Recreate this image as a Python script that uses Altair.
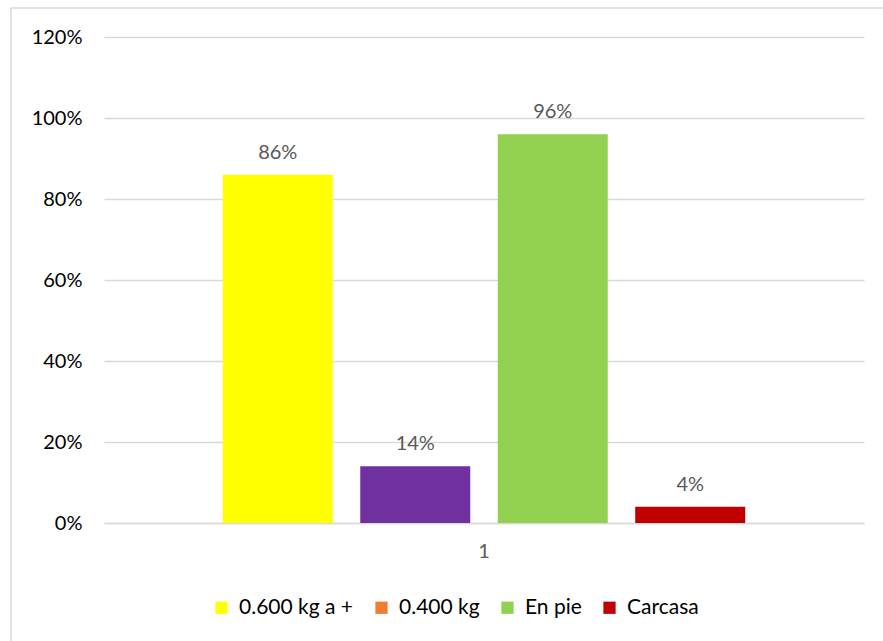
import altair as alt
import pandas as pd

series = ["0.600 kg a +", "0.400 kg", "En pie", "Carcasa"]
values = [0.86, 0.14, 0.96, 0.04]
category = ["1", "1", "1", "1"]
bar_colors = ["#FFFF00", "#7030A0", "#92D050", "#C00000"]
legend_colors = ["#FFFF00", "#ED7D31", "#92D050", "#C00000"]
y_ticks = [0, 0.2, 0.4, 0.6, 0.8, 1.0, 1.2]

df = pd.DataFrame({"cat": category, "series": series, "value": values, "bar_color": bar_colors})

FONT = "Lato"
FS = 20

x_enc = alt.X("cat:N", title=None,
              scale=alt.Scale(paddingInner=0, paddingOuter=0.191),
              axis=alt.Axis(labelAngle=0, labelFontSize=FS, labelColor="#595959", labelFont=FONT,
                            labelPadding=18, ticks=False, domain=True, domainColor="#d9d9d9",
                            domainWidth=1.5, grid=False))
xoff = alt.XOffset("series:N", sort=series, scale=alt.Scale(paddingInner=0.2, paddingOuter=0.1))
y_enc = alt.Y("value:Q", title=None,
              scale=alt.Scale(domain=[0, 1.2], nice=False),
              axis=alt.Axis(values=y_ticks, format=".0%", labelFontSize=FS, labelColor="#000000",
                            labelFont=FONT, labelPadding=22, ticks=False, domain=False,
                            gridColor="#d9d9d9", gridWidth=1.5))

base = alt.Chart(df)

bars = base.mark_bar().encode(
    x=x_enc, xOffset=xoff, y=y_enc,
    fill=alt.Fill("bar_color:N", scale=None),
)

labels = base.mark_text(dy=-12, baseline="bottom", fontSize=FS, color="#595959", font=FONT).encode(
    x=alt.X("cat:N"), xOffset=xoff, y=alt.Y("value:Q"),
    text=alt.Text("value:Q", format=".0%"),
)

legend_layer = base.mark_square(opacity=0, size=1).encode(
    x=alt.X("cat:N"), xOffset=xoff, y=alt.Y("value:Q"),
    color=alt.Color("series:N", sort=series,
                    scale=alt.Scale(domain=series, range=legend_colors),
                    legend=alt.Legend(title=None, orient="none", direction="horizontal",
                                      legendX=107, legendY=560, symbolType="square",
                                      symbolSize=150, symbolOpacity=1, symbolStrokeWidth=0,
                                      labelFontSize=21, labelFont=FONT, labelColor="#000000",
                                      labelOffset=7, columnPadding=17)),
)

border_left = alt.Chart(pd.DataFrame({"k": [0]})).mark_rule(color="#d9d9d9", strokeWidth=1.5).encode(
    x=alt.value(-93), y=alt.value(-29), y2=alt.value(640))
border_top = alt.Chart(pd.DataFrame({"k": [0]})).mark_rule(color="#d9d9d9", strokeWidth=1.5).encode(
    x=alt.value(-93), x2=alt.value(800), y=alt.value(-29))

chart = alt.layer(bars, labels, legend_layer, border_left, border_top).properties(
    width=760, height=486,
    autosize=alt.AutoSizeParams(type="none"),
    padding={"left": 104, "top": 37, "right": 19, "bottom": 118},
).configure(background="white").configure_view(stroke=None)

chart.save("out.html", embed_options={"renderer": "svg", "actions": False})
